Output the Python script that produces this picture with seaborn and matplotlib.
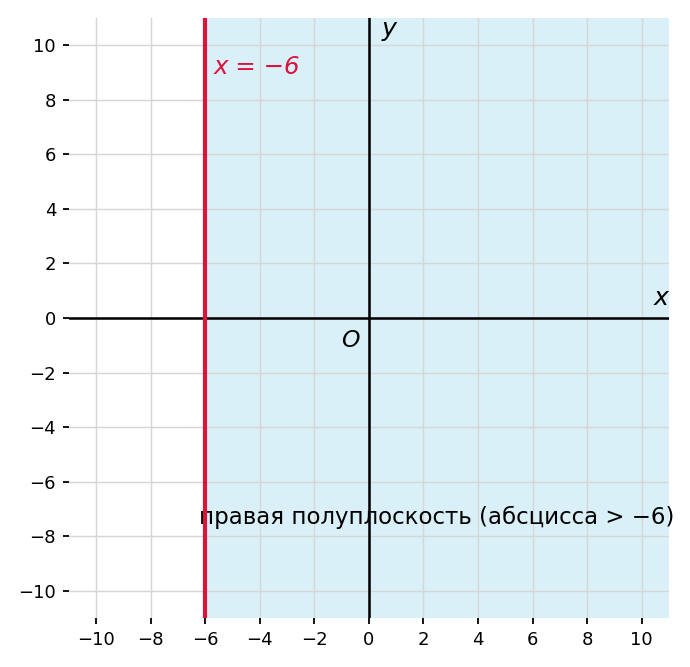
import matplotlib
matplotlib.use("Agg")
import matplotlib.pyplot as plt
import seaborn as sns

# boundary and limits
x_boundary = -6
lim = [-11, 11]
ticks = [-10, -8, -6, -4, -2, 0, 2, 4, 6, 8, 10]
region_label = "правая полуплоскость (абсцисса > −6)"
line_label = "x = −6"

sns.set_style("ticks", {"text.color": "black", "xtick.color": "black",
                        "ytick.color": "black", "axes.labelcolor": "black"})

fig = plt.figure(figsize=(5.308, 5.131), dpi=130)
ax = fig.add_axes([0.0996, 0.0735, 0.87, 0.8995])

# shaded half-plane x > -6
ax.axvspan(x_boundary, lim[1], color="skyblue", alpha=0.3, lw=0, zorder=0)

# boundary line
sns.lineplot(x=[x_boundary, x_boundary], y=lim, estimator=None, sort=False,
             color="crimson", linewidth=2.3, ax=ax, zorder=4)

# coordinate axes
ax.axhline(0, color="black", linewidth=1.4, zorder=3)
ax.axvline(0, color="black", linewidth=1.4, zorder=3)

ax.set_xlim(lim)
ax.set_ylim(lim)
ax.set_xticks(ticks)
ax.set_yticks(ticks)
ax.set_xticklabels([f"{t}".replace("-", "−") for t in ticks])
ax.set_yticklabels([f"{t}".replace("-", "−") for t in ticks])
ax.tick_params(labelsize=10, length=3.5, width=1.0)
ax.grid(True, color="#d6d6d6", linewidth=0.8)
ax.set_axisbelow(False)
for s in ax.spines.values():
    s.set_visible(False)

ax.text(10.4, 0.3, "$x$", fontsize=14, ha="left", va="bottom")
ax.text(0.45, 10.1, "$y$", fontsize=14, ha="left", va="bottom")
ax.text(-0.3, -0.4, "$O$", fontsize=13, ha="right", va="top")
ax.text(-5.7, 9.2, line_label, color="crimson", fontsize=13.6, style="italic",
        ha="left", va="center")
ax.text(2.5, -7.3, region_label, fontsize=12.7, ha="center", va="center")

fig.savefig("out.png", dpi=130)
